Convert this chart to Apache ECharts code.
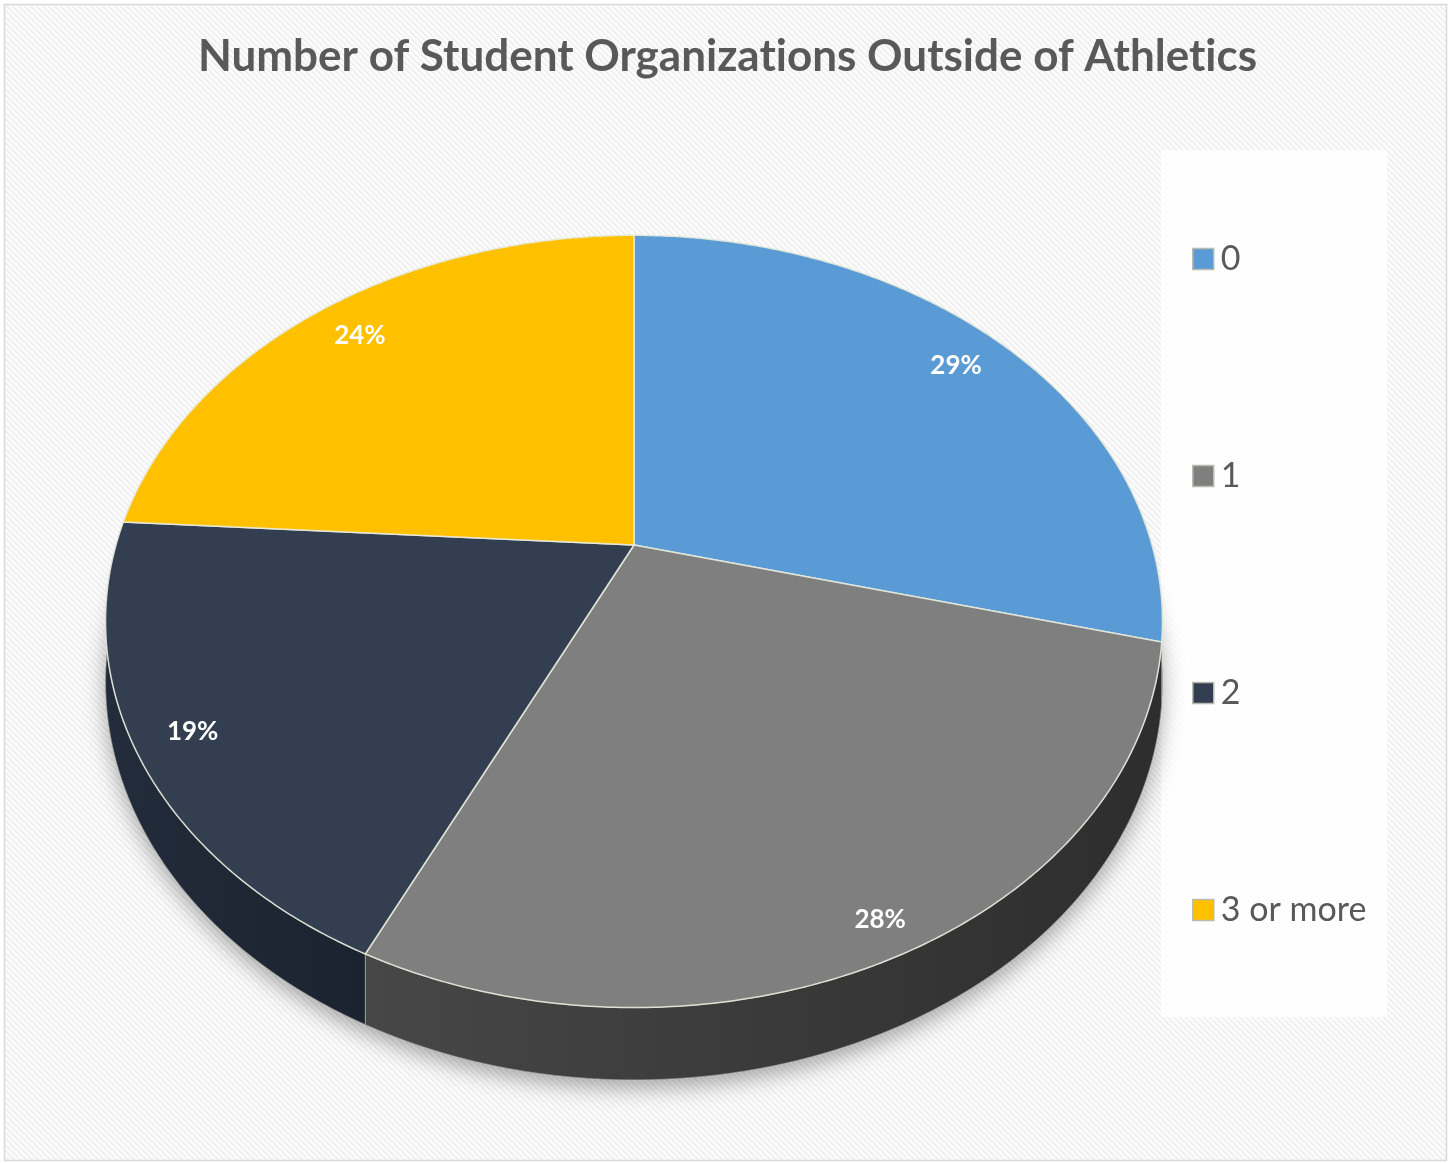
<!DOCTYPE html>
<html>
<head>
<meta charset="utf-8">
<title>Number of Student Organizations Outside of Athletics</title>
<script src="https://cdn.jsdelivr.net/npm/echarts@6/dist/echarts.min.js"></script>
<style>
  html, body { margin: 0; padding: 0; background: #fff; }
  #chart { width: 1455px; height: 1163px; }
</style>
</head>
<body>
<div id="chart"></div>
<script>
// Survey answers: how many student organizations (outside athletics) a student belongs to
const categories = ['0', '1', '2', '3 or more'];
const shares = [29, 28, 19, 24];            // percent of respondents
const topColors = ['#5b9bd5', '#7f7f7f', '#333f50', '#ffc000'];
const sideColors = [
  ['#4a80b3', '#3e6d99'],
  ['#474747', '#2d2d2d'],
  ['#232c3a', '#1b2230'],
  ['#c99a00', '#a87f00']
];
// how far out (fraction of the radius) each percentage label sits
const labelRadius = [0.87, 0.93, 0.9, 0.87];

// Tilted-disc projection used for the 3D pie
const CX = 634, CY = 545;   // projected centre of the disc
const RX = 518, RY = 371;   // horizontal / depth radii
const PERSP = 0.198;        // perspective strength (near side looks larger)
const THICK = 58;           // disc thickness

function project(u, v, drop) {
  const w = 1 / (1 - PERSP * v);
  return [CX + RX * u * w, CY + RY * v * w + drop * w];
}
// angle measured clockwise from 12 o'clock
function rim(theta, r, drop) {
  return project(r * Math.sin(theta), -r * Math.cos(theta), drop);
}
function arc(t0, t1, r, drop) {
  const pts = [];
  const n = Math.max(8, Math.ceil((t1 - t0) / 0.01));
  for (let k = 0; k <= n; k++) pts.push(rim(t0 + (t1 - t0) * k / n, r, drop));
  return pts;
}

const total = shares.reduce((a, b) => a + b, 0);

function makeRender(idx) {
  return function (params, api) {
    const value = api.value(0);
    let before = 0;
    for (let k = 0; k < idx; k++) before += shares[k];
    const t0 = before / total * Math.PI * 2;
    const t1 = (before + value) / total * Math.PI * 2;

    const topPts = [[CX, CY]].concat(arc(t0, t1, 1, 0));
    const sidePts = arc(t0, t1, 1, 0).concat(arc(t0, t1, 1, THICK).reverse());
    const mid = (t0 + t1) / 2;
    const lp = rim(mid, labelRadius[idx], 0);

    return {
      type: 'group',
      children: [
        {
          type: 'polygon',
          z2: 1,
          shape: { points: sidePts },
          style: {
            fill: new echarts.graphic.LinearGradient(0, 0, 1, 0, [
              { offset: 0, color: sideColors[idx][0] },
              { offset: 1, color: sideColors[idx][1] }
            ]),
            stroke: 'rgba(205,210,198,0.55)',
            lineWidth: 1
          }
        },
        {
          type: 'polygon',
          z2: 10,
          shape: { points: topPts },
          style: {
            fill: topColors[idx],
            stroke: 'rgba(232,236,222,0.9)',
            lineWidth: 1.5
          }
        },
        {
          type: 'text',
          z2: 20,
          x: lp[0],
          y: lp[1],
          style: {
            text: value + '%',
            fill: '#ffffff',
            font: 'bold 26px Lato',
            align: 'center',
            verticalAlign: 'middle'
          }
        }
      ]
    };
  };
}

// light diagonal hatching for the chart area
function stripeTile() {
  const c = document.createElement('canvas');
  c.width = 6; c.height = 6;
  const g = c.getContext('2d');
  g.fillStyle = '#fbfbfb';
  g.fillRect(0, 0, 6, 6);
  const img = g.getImageData(0, 0, 6, 6);
  for (let y = 0; y < 6; y++) {
    for (let x = 0; x < 6; x++) {
      const d = ((x - y) % 6 + 6) % 6;
      if (d < 2) {
        const p = (y * 6 + x) * 4;
        img.data[p] = 238; img.data[p + 1] = 238; img.data[p + 2] = 238; img.data[p + 3] = 255;
      }
    }
  }
  g.putImageData(img, 0, 0);
  return c;
}

const baseOutline = arc(0, Math.PI * 2, 1, THICK);

const chart = echarts.init(document.getElementById('chart'), null, { renderer: 'canvas' });

chart.setOption({
  backgroundColor: '#ffffff',
  animation: false,
  title: {
    // zero-width non-joiners keep the "ti" letter pairs unligated
    text: 'Number of Student Organizat\u200Cions Outside of Athlet\u200Cics',
    left: 'center',
    top: 30,
    textStyle: { fontFamily: 'Lato', fontWeight: 'bold', fontSize: 44, color: '#595959' }
  },
  legend: {
    orient: 'vertical',
    left: 1187,
    top: 236,
    itemWidth: 21,
    itemHeight: 21,
    itemGap: 181,
    icon: 'rect',
    itemStyle: { borderColor: '#b9bdb1', borderWidth: 1.5 },
    textStyle: { fontFamily: 'Lato', fontSize: 34, color: '#595959', lineHeight: 36, padding: [0, 0, 0, 2] },
    data: categories
  },
  graphic: [
    {
      type: 'rect',
      z: -10,
      shape: { x: 4.5, y: 4.5, width: 1442, height: 1156 },
      style: { fill: { image: stripeTile(), repeat: 'repeat' }, stroke: '#d9d9d9', lineWidth: 1.5 },
      silent: true
    },
    {
      type: 'rect',
      z: -9,
      shape: { x: 1161, y: 150, width: 226, height: 867 },
      style: { fill: 'rgba(255,255,255,0.82)' },
      silent: true
    },
    {
      type: 'polygon',
      z: 1,
      shape: { points: baseOutline },
      style: {
        fill: '#2a2a2a',
        shadowBlur: 22,
        shadowOffsetY: 8,
        shadowColor: 'rgba(0,0,0,0.34)'
      },
      silent: true
    }
  ],
  series: categories.map((name, i) => ({
    type: 'custom',
    name: name,
    coordinateSystem: 'none',
    itemStyle: { color: topColors[i] },
    renderItem: makeRender(i),
    data: [shares[i]]
  }))
});
</script>
</body>
</html>
